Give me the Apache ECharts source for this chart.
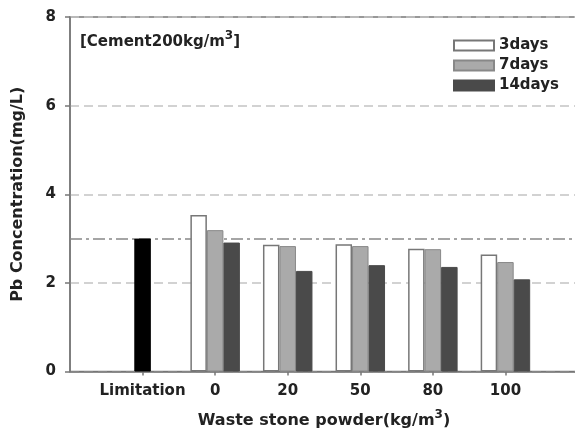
<!DOCTYPE html>
<html>
<head>
<meta charset="utf-8">
<script src="https://cdn.jsdelivr.net/npm/echarts@6/dist/echarts.min.js"></script>
<style>
  html, body { margin: 0; padding: 0; background: #fff; }
  #chart { width: 575px; height: 430px; }
</style>
</head>
<body>
<div id="chart"></div>
<script>
// Category labels (blank padding slots at both ends keep the spacing even)
const categories = ['', 'Limitation', '0', '20', '50', '80', '100', ''];
// Regulatory limit for Pb (mg/L)
const limitValue = 3.0;
// Pb concentration by curing age (mg/L), for 0/20/50/80/100 kg/m3 of waste stone powder
const days3 = [3.53, 2.86, 2.87, 2.77, 2.64];
const days7 = [3.19, 2.83, 2.83, 2.76, 2.47];
const days14 = [2.91, 2.27, 2.40, 2.36, 2.08];
const yTicks = [0, 2, 4, 6, 8];

const FONT = 'DejaVu Sans';
const TXT = '#222';

function pad(values) {
  return [null, null].concat(values, [null]);
}

// The limit bar sits in the middle slot so it is centred on its category
const mid = pad(days7);
mid[1] = { value: limitValue, itemStyle: { color: '#000', borderColor: '#000' } };

const chart = echarts.init(document.getElementById('chart'), null, { renderer: 'canvas' });

const option = {
  animation: false,
  backgroundColor: '#fff',
  textStyle: { fontFamily: FONT },
  grid: {
    left: 70, top: 17, bottom: 58.5, right: -3,
    containLabel: false, outerBoundsMode: 'none',
    show: true, borderColor: '#777', borderWidth: 1.5, backgroundColor: 'transparent'
  },
  legend: {
    orient: 'vertical',
    left: 448, top: 33,
    icon: 'rect',
    itemWidth: 40, itemHeight: 10, itemGap: 5,
    textStyle: { fontFamily: FONT, fontSize: 15, fontWeight: 'bold', color: TXT, lineHeight: 15 },
    data: ['3days', '7days', '14days']
  },
  xAxis: {
    type: 'category',
    data: categories,
    boundaryGap: false,
    axisLine: { lineStyle: { color: '#777', width: 1.5 } },
    axisTick: {
      show: true, length: 4, inside: false,
      interval: (i) => i > 0 && i < categories.length - 1,
      lineStyle: { color: '#777', width: 1.5 }
    },
    axisLabel: {
      interval: 0, margin: 12,
      fontFamily: FONT, fontSize: 15, fontWeight: 'bold', color: TXT
    },
    splitLine: { show: false },
    name: '{a|Waste stone powder(kg/m}{s|3}{a|)}',
    nameLocation: 'middle',
    nameGap: 37,
    nameTextStyle: {
      rich: {
        a: { fontFamily: FONT, fontSize: 16, fontWeight: 'bold', color: TXT, lineHeight: 20, verticalAlign: 'bottom' },
        s: { fontFamily: FONT, fontSize: 12, fontWeight: 'bold', color: TXT, lineHeight: 12, verticalAlign: 'top' }
      }
    }
  },
  yAxis: {
    type: 'value',
    min: yTicks[0], max: yTicks[yTicks.length - 1], interval: 2,
    axisLine: { show: true, lineStyle: { color: '#777', width: 1.5 } },
    axisTick: { show: true, length: 5, lineStyle: { color: '#777', width: 1.5 } },
    axisLabel: { margin: 14, fontFamily: FONT, fontSize: 15, fontWeight: 'bold', color: TXT },
    splitLine: { show: true, lineStyle: { color: '#c4c4c4', width: 1.5, type: [9, 5] } },
    name: 'Pb Concentration(mg/L)',
    nameLocation: 'middle',
    nameGap: 44,
    nameTextStyle: { fontFamily: FONT, fontSize: 16, fontWeight: 'bold', color: TXT }
  },
  graphic: [{
    type: 'text',
    left: 80, top: 30,
    style: {
      text: '{a|[Cement200kg/m}{s|3}{a|]}',
      rich: {
        a: { fontFamily: FONT, fontSize: 15, fontWeight: 'bold', fill: TXT, lineHeight: 20, verticalAlign: 'bottom' },
        s: { fontFamily: FONT, fontSize: 12, fontWeight: 'bold', fill: TXT, lineHeight: 12, verticalAlign: 'top' }
      }
    }
  }],
  series: [
    {
      name: '3days', type: 'bar', data: pad(days3),
      barWidth: 16.5, barGap: '0%',
      itemStyle: { color: '#fff', borderColor: '#777', borderWidth: 1.5 }
    },
    {
      name: '7days', type: 'bar', data: mid,
      barWidth: 16.5, barGap: '0%',
      itemStyle: { color: '#aaa', borderColor: '#888', borderWidth: 1 },
      markLine: {
        silent: true, symbol: 'none', z: 1,
        label: { show: false },
        lineStyle: { color: '#888', width: 1.5, type: [12, 4, 3, 4] },
        data: [{ yAxis: limitValue }]
      }
    },
    {
      name: '14days', type: 'bar', data: pad(days14),
      barWidth: 16.5, barGap: '0%',
      itemStyle: { color: '#4a4a4a', borderColor: '#4a4a4a', borderWidth: 1 }
    }
  ]
};

chart.setOption(option);
</script>
</body>
</html>
